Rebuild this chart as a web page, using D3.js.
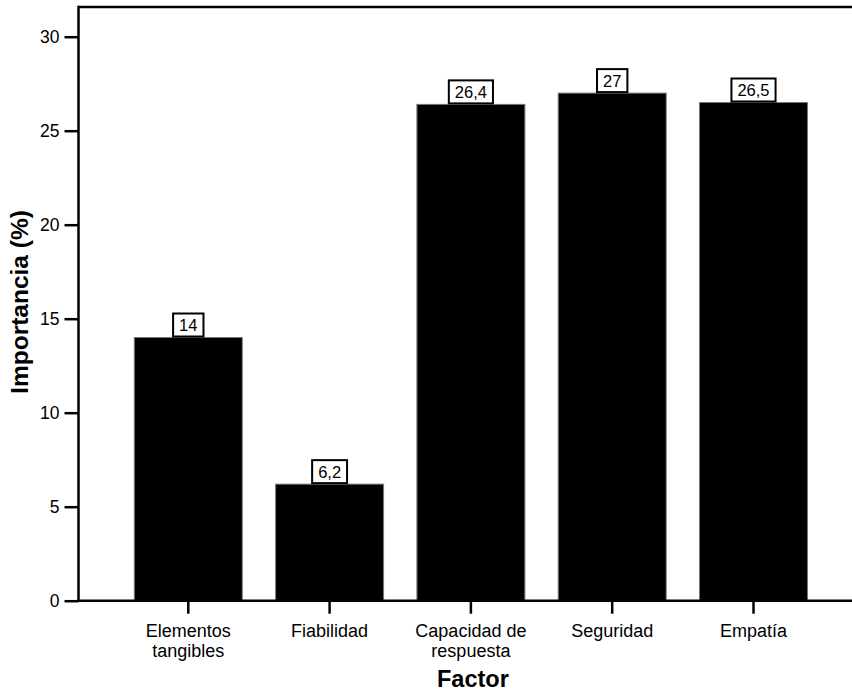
<!DOCTYPE html>
<html><head><meta charset="utf-8">
<script src="https://cdn.jsdelivr.net/npm/d3@7"></script>
<style>body{margin:0;background:#fff}svg{display:block}</style>
</head><body>
<script>
const categories = [["Elementos","tangibles"],["Fiabilidad"],["Capacidad de","respuesta"],["Seguridad"],["Empatía"]];
const values = [14, 6.2, 26.4, 27, 26.5];
const valueLabels = ["14","6,2","26,4","27","26,5"];
const yTicks = [0,5,10,15,20,25,30];

const W=852,H=693;
const x0=78.5,x1=863.3,yBot=600.7,yTop=7;
const svg=d3.select("body").append("svg").attr("width",W).attr("height",H);
const font="Liberation Sans, Arial, sans-serif";
const keys=categories.map((c,i)=>i);
const x=d3.scaleBand().domain(keys).range([x0,x1]).paddingInner(0.236).paddingOuter(0.395);
const y=d3.scaleLinear().domain([0,31.58]).range([yBot,yTop]);

// bars
svg.append("g").selectAll("rect").data(values).join("rect")
  .attr("x",(d,i)=>x(i)).attr("width",x.bandwidth())
  .attr("y",d=>y(d)).attr("height",d=>yBot-y(d))
  .attr("fill","#000").attr("stroke","#777").attr("stroke-width",1);

// y axis
const ya=svg.append("g").attr("transform",`translate(${x0},0)`)
  .call(d3.axisLeft(y).tickValues(yTicks).tickSize(14).tickPadding(5).tickFormat(d3.format("d")));
ya.select(".domain").remove();
ya.selectAll("line").attr("stroke","#000").attr("stroke-width",2.5);
ya.selectAll("text").attr("font-family",font).attr("font-size",17.5).attr("fill","#000");

// x axis
const xa=svg.append("g").attr("transform",`translate(0,${yBot})`)
  .call(d3.axisBottom(x).tickSize(13).tickFormat(""));
xa.select(".domain").remove();
xa.selectAll("line").attr("stroke","#000").attr("stroke-width",2.5);
xa.selectAll(".tick").each(function(d){
  const t=d3.select(this).append("text").attr("fill","#000").attr("font-family",font)
   .attr("font-size",18).attr("text-anchor","middle");
  categories[d].forEach((s,j)=>t.append("tspan").attr("x",0).attr("y",36+j*20).text(s));
});

// frame lines
svg.append("line").attr("x1",x0).attr("x2",W+5).attr("y1",yBot).attr("y2",yBot).attr("stroke","#000").attr("stroke-width",2.5);
svg.append("line").attr("x1",x0).attr("x2",W+5).attr("y1",yTop).attr("y2",yTop).attr("stroke","#000").attr("stroke-width",2.5);
svg.append("line").attr("x1",x0).attr("x2",x0).attr("y1",yTop-1.25).attr("y2",yBot+1.25).attr("stroke","#000").attr("stroke-width",2.5);

// value labels
const lg=svg.append("g");
values.forEach((v,i)=>{
  const cx=x(i)+x.bandwidth()/2;
  const g=lg.append("g");
  const t=g.append("text").attr("x",cx).attr("y",y(v)-6.5).attr("text-anchor","middle")
    .attr("font-family",font).attr("font-size",16.5).attr("fill","#000").text(valueLabels[i]);
  const w=t.node().getComputedTextLength()+12;
  g.insert("rect","text").attr("x",cx-w/2).attr("y",y(v)-24).attr("width",w).attr("height",23)
    .attr("fill","#fff").attr("stroke","#000").attr("stroke-width",2);
});

// titles
svg.append("text").attr("x",(x0+x1)/2+2).attr("y",687).attr("text-anchor","middle")
  .attr("font-family",font).attr("font-weight","bold").attr("font-size",23.5).text("Factor");
svg.append("text").attr("transform",`translate(28,302) rotate(-90)`).attr("text-anchor","middle")
  .attr("font-family",font).attr("font-weight","bold").attr("font-size",24.5).text("Importancia (%)");
</script>
</body></html>
